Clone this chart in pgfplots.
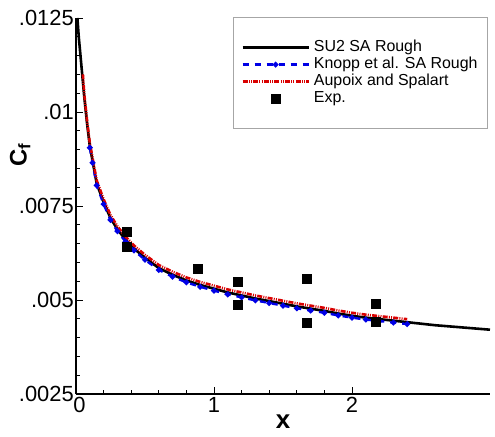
\documentclass[border=0pt]{standalone}
\usepackage{fontspec}
\setmainfont{Liberation Sans}
\usepackage{pgfplots}
\usepackage{pgfplotstable}
\pgfplotsset{compat=1.18}

\pgfplotstableread{
x y
0.01 0.0125
0.02 0.0120
0.04 0.0112
0.06 0.0104
0.08 0.0097
0.10 0.0091
0.12 0.0087
0.15 0.0081
0.20 0.0076
0.25 0.00718
0.30 0.00688
0.36 0.00660
0.42 0.00637
0.50 0.00612
0.60 0.00585
0.70 0.00567
0.80 0.00552
0.90 0.00540
1.00 0.00530
1.10 0.00520
1.20 0.00512
1.30 0.00504
1.40 0.00497
1.50 0.00490
1.60 0.00483
1.70 0.00477
1.80 0.00471
1.90 0.00464
2.00 0.00458
2.10 0.00453
2.20 0.00449
2.30 0.00445
2.40 0.00441
2.50 0.00437
2.60 0.00433
2.70 0.00430
2.80 0.00427
2.90 0.00424
3.00 0.00421
}\sutwo

\pgfplotstableread{
x y
0.10 0.00905
0.12 0.00865
0.15 0.00805
0.20 0.00755
0.25 0.00713
0.30 0.00683
0.36 0.00655
0.42 0.00632
0.50 0.00607
0.60 0.00580
0.70 0.00562
0.80 0.00547
0.90 0.00535
1.00 0.00525
1.10 0.00515
1.20 0.00507
1.30 0.00499
1.40 0.00492
1.50 0.00485
1.60 0.00478
1.70 0.00472
1.80 0.00466
1.90 0.00459
2.00 0.00453
2.10 0.00448
2.20 0.00444
2.30 0.00440
2.40 0.00436
}\knopp

\pgfplotstableread{
x y
0.05 0.0110
0.06 0.01048
0.08 0.00978
0.10 0.00918
0.12 0.00878
0.15 0.00818
0.20 0.00768
0.25 0.00726
0.30 0.00696
0.36 0.00668
0.42 0.00645
0.50 0.00620
0.60 0.00593
0.70 0.00575
0.80 0.00560
0.90 0.00548
1.00 0.00538
1.10 0.00528
1.20 0.00520
1.30 0.00512
1.40 0.00505
1.50 0.00498
1.60 0.00491
1.70 0.00485
1.80 0.00479
1.90 0.00472
2.00 0.00466
2.10 0.00461
2.20 0.00457
2.30 0.00453
2.40 0.00449
}\aupoix

\pgfplotstableread{
x y
0.37 0.00681
0.37 0.00642
0.88 0.00582
1.17 0.00548
1.17 0.00487
1.67 0.00556
1.67 0.00439
2.17 0.00489
2.17 0.00443
}\expdata

\begin{document}
\begin{tikzpicture}
\useasboundingbox (-76bp,-43bp) rectangle (419bp,394bp);
\begin{axis}[
  at={(0,0)}, anchor=south west,
  scale only axis,
  width=414bp, height=376bp,
  xmin=0, xmax=3, ymin=0.0025, ymax=0.0125,
  axis lines=left,
  axis line style={-, line width=1.3bp},
  tick align=inside,
  major tick length=7bp, minor tick length=4bp,
  tick style={black, line width=0.9bp},
  xtick={0,1,2}, xticklabels={\hspace*{7bp}0,1,2}, minor x tick num=4,
  ytick={0.0025,0.005,0.0075,0.01,0.0125},
  yticklabels={.0025,.005,.0075,.01,.0125},
  minor y tick num=4,
  scaled y ticks=false,
  /pgf/number format/assume math mode=true,
  tick label style={font=\fontsize{22}{24}\selectfont},
  yticklabel style={inner xsep=2bp, inner ysep=1bp},
  xticklabel style={inner ysep=3bp, inner xsep=0bp},
  xlabel={\textbf{x}},
  ylabel={\bfseries C\textsubscript{f}},
  every axis x label/.style={at={(axis description cs:0.5,-0.074)}, anchor=center, font=\fontsize{26}{28}\selectfont},
  every axis y label/.style={at={(axis description cs:-0.135,0.636)}, anchor=center, rotate=90, font=\fontsize{24}{26}\selectfont},
  legend image code/.code={\draw[mark repeat=2,mark phase=2,#1] plot coordinates {(0bp,0bp) (33bp,0bp) (66bp,0bp)};},
  legend style={at={(rel axis cs:0.379,1.003)}, anchor=north west,
    draw=gray!70, line width=0.8bp, inner xsep=8bp, inner ysep=22bp,
    font=\fontsize{16}{17}\selectfont,
    nodes={text height=11.5bp, text depth=3bp, inner ysep=1.2bp},
    column sep=2bp},
  legend cell align=left,
]
\addplot[black, line width=2.6bp] table[x=x,y=y] {\sutwo};
\addlegendentry{SU2 SA Rough}
\addplot[blue!90!black, line width=2.4bp, dash pattern=on 6bp off 6bp, mark=*, mark size=1.5bp, mark options={solid}] table[x=x,y=y] {\knopp};
\addlegendentry{Knopp et al. SA Rough}
\addplot[red!85!black, line width=2.6bp, dash pattern=on 5bp off 1.2bp on 1bp off 1.2bp on 1bp off 1.2bp] table[x=x,y=y] {\aupoix};
\addlegendentry{Aupoix and Spalart}
\addplot[only marks, black, mark=square*, mark size=4.5bp] table[x=x,y=y] {\expdata};
\addlegendentry{Exp.}
\end{axis}
\end{tikzpicture}
\end{document}
